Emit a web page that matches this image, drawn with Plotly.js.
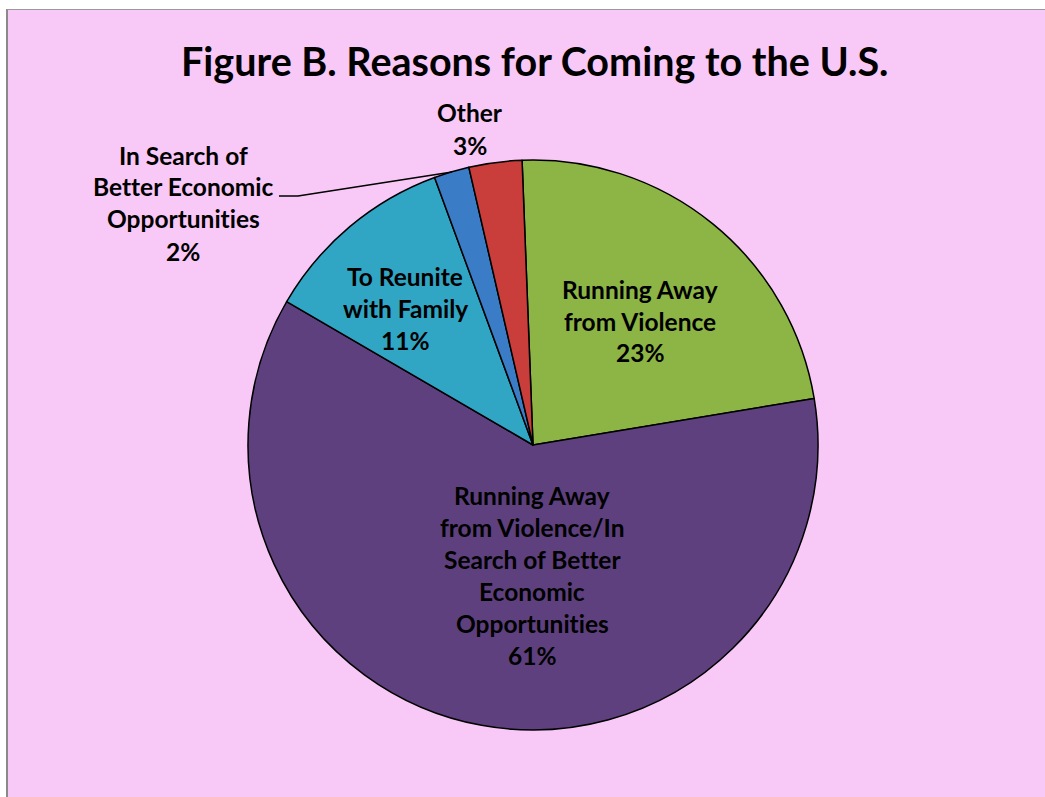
<!DOCTYPE html>
<html>
<head>
<meta charset="utf-8">
<script src="https://cdn.plot.ly/plotly-3.0.1.min.js"></script>
<style>
  html, body { margin: 0; padding: 0; background: #ffffff; width: 1045px; height: 797px; overflow: hidden; }
  #frame { position: absolute; left: 6px; top: 9px; width: 1039px; height: 788px;
           border-left: 2px solid #8a8a8a; border-top: 1px solid #9a9a9a; box-sizing: border-box; }
  #chart { width: 100%; height: 100%; }
  svg text { font-variant-ligatures: none; font-feature-settings: "liga" 0, "clig" 0; }
</style>
</head>
<body>
<div id="frame"><div id="chart"></div></div>
<script>
// ---- data ----
const categories = [
  "Running Away<br>from Violence",
  "Running Away<br>from Violence/In<br>Search of Better<br>Economic<br>Opportunities",
  "To Reunite<br>with Family",
  "In Search of<br>Better Economic<br>Opportunities",
  "Other"
];
const values = [23, 61, 11, 2, 3];
const sliceColors = ["#8DB545", "#5E407E", "#31A6C4", "#3B7CC6", "#C93D3B"];

// ---- layout helpers (pixel -> paper) ----
const W = 1039 - 2, H = 788 - 1, OX = 8, OY = 10;
const px = x => (x - OX) / W;
const py = y => 1 - (y - OY) / H;

// label placement (pixel centers of text blocks)
const labelPos = [
  {x: 640, y: 321},
  {x: 532, y: 575},
  {x: 405, y: 308},
  {x: 183, y: 203},
  {x: 470, y: 129}
];
const LINE = 32;
const fontFam = "Lato, 'Open Sans', sans-serif";

const annotations = [{
  text: "Figure B. Reasons for Coming to the U.S.",
  x: px(534), y: py(60), xref: "paper", yref: "paper",
  showarrow: false, xanchor: "center", yanchor: "middle",
  font: {family: fontFam, size: 39.5, color: "#000000", weight: 700}
}];
categories.forEach((c, i) => {
  const lines = c.split("<br>").concat([values[i] + "%"]);
  const n = lines.length;
  lines.forEach((t, k) => {
    annotations.push({
      text: "<b>" + t + "</b>",
      x: px(labelPos[i].x), y: py(labelPos[i].y + (k - (n - 1) / 2) * LINE),
      xref: "paper", yref: "paper", showarrow: false,
      xanchor: "center", yanchor: "middle",
      font: {family: fontFam, size: 24.5, color: "#000000"}
    });
  });
});

const pieCx = 533, pieCy = 445, pieR = 285;

const trace = {
  type: "pie",
  values: values,
  labels: categories,
  sort: false,
  direction: "clockwise",
  rotation: -2.2,
  textinfo: "none",
  hoverinfo: "label+percent",
  marker: {colors: sliceColors, line: {color: "#000000", width: 1.5}},
  domain: {x: [px(pieCx - pieR), px(pieCx + pieR)], y: [py(pieCy + pieR), py(pieCy - pieR)]},
  showlegend: false
};

const shapes = [{
  type: "path", xref: "paper", yref: "paper",
  path: `M ${px(279)},${py(196)} L ${px(298)},${py(196)} L ${px(452)},${py(172)}`,
  line: {color: "#000000", width: 1.5}
}];

const layout = {
  width: 1037, height: 787,
  margin: {l: 0, r: 0, t: 0, b: 0},
  paper_bgcolor: "#F8C8F6",
  plot_bgcolor: "#F8C8F6",
  annotations: annotations,
  shapes: shapes,
  showlegend: false
};

Plotly.newPlot("chart", [trace], layout, {displayModeBar: false, staticPlot: true});
</script>
</body>
</html>
